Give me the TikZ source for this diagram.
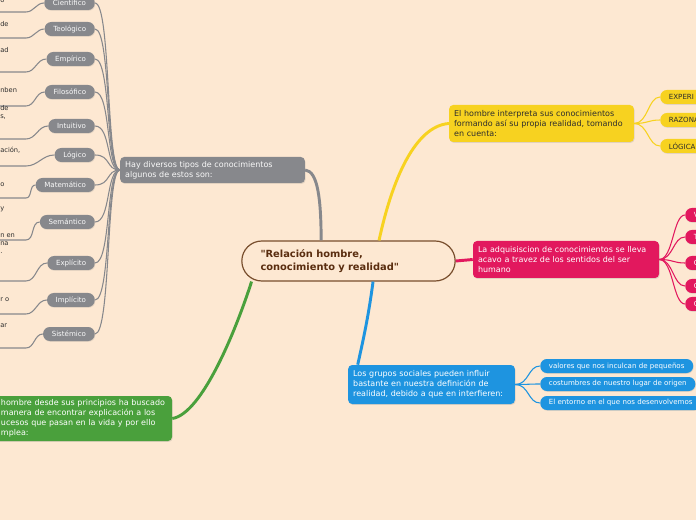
\documentclass[tikz,border=0pt]{standalone}
\usepackage{fontspec}
\setmainfont{DejaVu Sans}
\usepackage{tikz}
\usetikzlibrary{shadows}
\definecolor{paper}{RGB}{253,232,210}
\definecolor{slate}{RGB}{135,136,140}
\definecolor{sun}{RGB}{247,210,32}
\definecolor{rose}{RGB}{226,24,94}
\definecolor{sky}{RGB}{30,148,224}
\definecolor{leaf}{RGB}{74,160,60}
\definecolor{bark}{RGB}{120,78,45}
\definecolor{cocoa}{RGB}{90,45,15}
\definecolor{ink}{RGB}{45,45,45}
\tikzset{
  hubnode/.style={draw=bark,line width=0.9pt,fill=paper,rounded corners=15pt,
    minimum width=160pt,minimum height=30pt,text width=132pt,align=left,
    inner xsep=14pt,inner ysep=0pt,text=cocoa,font=\fontsize{7.4}{9.8}\selectfont\bfseries},
  topic/.style={rounded corners=3pt,inner xsep=3.75pt,inner ysep=0pt,align=left,
    font=\fontsize{6}{7.6}\selectfont,
    drop shadow={shadow xshift=0.5pt,shadow yshift=-0.7pt,opacity=0.22}},
  pill/.style={rounded corners=5pt,minimum height=10.5pt,inner xsep=6.5pt,inner ysep=0pt,
    font=\fontsize{5.3}{6.5}\selectfont,
    drop shadow={shadow xshift=0.4pt,shadow yshift=-0.6pt,opacity=0.2}},
  bough/.style={line width=2.2pt},
  twig/.style={line width=0.8pt},
  leaftext/.style={inner sep=0pt,align=left,text=ink,font=\fontsize{5}{6}\selectfont}
}

\begin{document}
\begin{tikzpicture}[x=0.75pt,y=-0.75pt]
  \useasboundingbox (0,0) rectangle (696,520);
  \clip (0,0) rectangle (696,520);
  \fill[paper] (0,0) rectangle (696,520);
  % central idea
  \node[hubnode] (hub) at (348.5,261)
    {\textquotedbl Relación hombre,\\conocimiento y realidad\textquotedbl};
  % main topics
  \node[topic,fill=slate,text=white!95!slate,text width=131pt,minimum height=19.5pt]
    (tipos) at (212.5,170) {Hay diversos tipos de conocimientos\\algunos de estos son:};
  \node[topic,fill=sun,text=ink,text width=131pt,minimum height=27.75pt]
    (sunny) at (541.5,123.5) {El hombre interpreta sus conocimientos\\formando así su propia realidad, tomando\\en cuenta:};
  \node[topic,fill=rose,text=white,text width=132pt,minimum height=27.75pt]
    (rosy) at (566,259.5) {La adquisiscion de conocimientos se lleva\\acavo a travez de los sentidos del ser\\humano};
  \node[topic,fill=sky,text=white,text width=117.5pt,minimum height=29.25pt]
    (skyey) at (431.5,384.5) {Los grupos sociales pueden influir\\bastante en nuestra definición de\\realidad, debido a que en interfieren:};
  \node[topic,fill=leaf,text=white,text width=124.5pt,minimum height=33.75pt]
    (grassy) at (84,418.5) {hombre desde sus principios ha buscado\\manera de encontrar explicación a los\\ucesos que pasan en la vida y por ello\\mplea:};
  % branches from the centre
  \draw[bough,slate] (hub.143) .. controls (321,200) and (318,171) .. (tipos.east);
  \draw[bough,sun] (hub.34) .. controls (392,180) and (415,126) .. (sunny.west);
  \draw[bough,rose] (hub.east) -- (rosy.west);
  \draw[bough,sky] (hub.320) .. controls (368,320) and (362,345) .. (skyey.165);
  \draw[bough,leaf] (hub.192) .. controls (236,330) and (202,414) .. (grassy.east);
  % kinds of knowledge
  \foreach \nm/\lbl/\cy/\uy/\frag/\fy in {
      cie/Científico/3/12/o/3, teo/Teológico/29/38/de/27,
      emp/Empírico/59/72/ad/53, fil/Filosófico/92/106/nben/93,
      int/Intuitivo/126/139/{de\\s,}/119, log/Lógico/155/166/{ación,}/153,
      mat/Matemático/185/198/o/187, sem/Semántico/222/240/y/211,
      exp/Explícito/263/281/{n en\\na\\.}/254, imp/Implícito/300/314/{r o}/301,
      sis/Sistémico/334/348/ar/328} {
    \node[pill,fill=slate,text=white!95!slate,anchor=east] (\nm) at (95,\cy) {\lbl};
    \draw[twig,slate] (tipos.west) .. controls +(-14,0) and +(16,0) .. (\nm.east);
    \node[leaftext,anchor=base west] (\nm-txt) at (0,\fy) {\frag};
    \coordinate (\nm-bend) at (26,\uy);
    \coordinate (\nm-end) at (0,\uy);
    \draw[twig,slate] (\nm.west) to[out=180,in=0] (\nm-bend) -- (\nm-end);
  }
  % what man takes into account
  \foreach \nm/\lbl/\cy in {expe/EXPERI/97, razo/RAZONA/120, logi/LÓGICA/146} {
    \node[pill,fill=sun,text=ink,anchor=west,text width=50pt,align=left] (\nm) at (660,\cy) {\lbl};
    \draw[twig,sun] (sunny.east) .. controls +(14,0) and +(-12,0) .. (\nm.west);
  }
  % senses
  \foreach \nm/\lbl/\cy in {sa/V/215, sb/T/237, sc/O/263, sd/O/286, se/O/304} {
    \node[pill,fill=rose,text=white,anchor=west,text width=30pt,align=left] (\nm) at (685,\cy) {\lbl};
    \draw[twig,rose] (rosy.east) .. controls +(14,0) and +(-12,0) .. (\nm.west);
  }
  % social influence
  \foreach \nm/\lbl/\cy in {valo/valores que nos inculcan de pequeños/366,
      cost/costumbres de nuestro lugar de origen/384,
      ento/El entorno en el que nos desenvolvemos/403} {
    \node[pill,fill=sky,text=white,anchor=west] (\nm) at (540,\cy) {\lbl};
    \draw[twig,sky] (skyey.east) .. controls +(14,0) and +(-12,0) .. (\nm.west);
  }
\end{tikzpicture}
\end{document}
